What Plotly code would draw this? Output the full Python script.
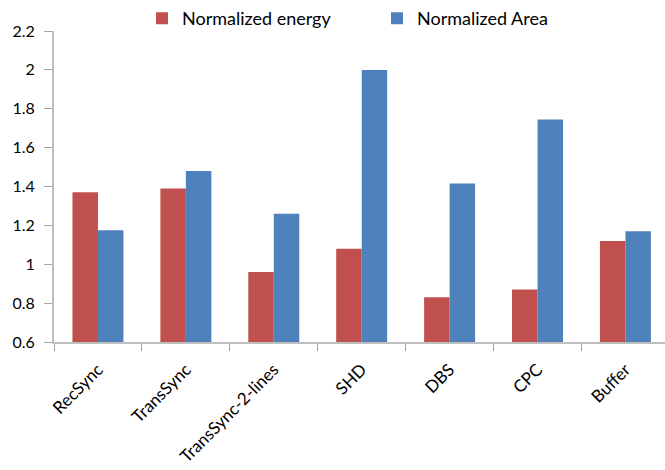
import plotly.graph_objects as go

categories = ["RecSync", "TransSync", "TransSync-2-lines", "SHD", "DBS", "CPC", "Buffer"]
energy = [1.37, 1.39, 0.96, 1.08, 0.83, 0.87, 1.12]
area = [1.175, 1.48, 1.26, 2.0, 1.415, 1.745, 1.17]

font_family = "Lato, 'Open Sans', sans-serif"

fig = go.Figure()
fig.add_trace(go.Bar(x=categories, y=energy, name="Normalized energy",
                     marker=dict(color="#C0504D", line=dict(width=0))))
fig.add_trace(go.Bar(x=categories, y=area, name="Normalized Area",
                     marker=dict(color="#4F81BD", line=dict(width=0))))

fig.update_layout(
    width=665, height=470,
    margin=dict(l=54, r=0, t=29, b=128),
    paper_bgcolor="white", plot_bgcolor="white",
    barmode="group", bargap=0.42, bargroupgap=0,
    font=dict(family=font_family, size=16, color="black"),
    legend=dict(orientation="h", x=0.144, xanchor="left", y=1.04, yanchor="middle",
                font=dict(size=18), itemwidth=30, traceorder="normal",
                entrywidth=190, entrywidthmode="pixels",
                bgcolor="rgba(0,0,0,0)"),
    xaxis=dict(
        range=[-0.5, 6.45],
        showline=True, linecolor="#BFBFBF", linewidth=2,
        ticks="outside", tickson="boundaries", ticklen=7, tickcolor="#A6A6A6",
        tickangle=-45, tickfont=dict(size=17), ticklabelstandoff=9,
        showgrid=False, zeroline=False,
    ),
    yaxis=dict(
        range=[0.6, 2.2], dtick=0.2, tick0=0.6,
        showline=True, linecolor="#BFBFBF", linewidth=2,
        ticks="outside", ticklen=8, tickcolor="#A6A6A6",
        tickfont=dict(size=16), ticklabelstandoff=6,
        showgrid=False, zeroline=False,
    ),
)

fig.write_html("out.html")
